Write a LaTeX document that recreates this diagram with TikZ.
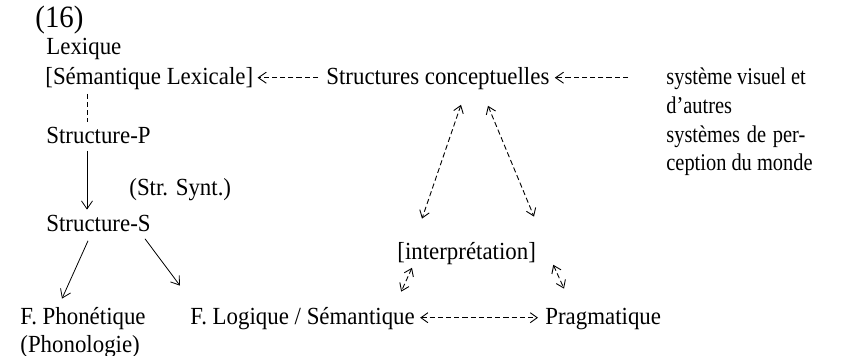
\documentclass[tikz,border=0pt]{standalone}
\usepackage{fontspec}
\setmainfont[FakeStretch=0.93]{Liberation Serif}
\newfontfamily\sidefont[FakeStretch=0.85,Ligatures=TeX]{Liberation Serif}
\usetikzlibrary{arrows.meta}
\usetikzlibrary{positioning}

\begin{document}
\begin{tikzpicture}[x=0.5pt,y=-0.5pt,
  txt/.style={anchor=base west,inner sep=0pt,font=\fontsize{12.3}{15}\selectfont,text height=9pt,text depth=2.7pt},
  side/.style={txt,font=\sidefont\fontsize{12}{15}\selectfont},
  dasharr/.style={dash pattern=on 2.6pt off 1.5pt,line width=0.45pt},
  barb/.style={-{Straight Barb[length=4pt,width=5.5pt]}},
  dbarb/.style={{Straight Barb[length=3.5pt,width=5pt]}-{Straight Barb[length=3.5pt,width=5pt]}}]
\useasboundingbox (0,0) rectangle (853,355);

% texts
\node[txt,font=\fontsize{15.5}{18}\selectfont] (num) at (35,27) {(16)};
\node[txt] (lex) at (46,54) {Lexique};
\node[txt] (semlex) at (45,84) {[Sémantique Lexicale]};
\node[txt] (conc) at (326,84) {Structures conceptuelles};
\node[side] (sysa) at (666,84) {système visuel et};
\node[side] (sysb) at (666,113) {d’autres};
\node[side] (sysc) at (666,142) {\makebox[69.5pt][s]{systèmes de per-}};
\node[side] (sysd) at (666,170) {ception du monde};
\node[txt] (strp) at (46,143) {Structure-P};
\node[txt] (synt) at (129,195) {(Str. Synt.)};
\node[txt] (strs) at (46,231) {Structure-S};
\node[txt] (interp) at (397,259) {[interprétation]};
\node[txt] (phon) at (20,324) {F. Phonétique};
\node[txt] (phgie) at (20,352) {(Phonologie)};
\node[txt] (logsem) at (190,324) {F. Logique / Sémantique};
\node[txt] (prag) at (545,324) {Pragmatique};
\coordinate (pcol) at (87,0);

% connectors
\draw[dasharr] ([yshift=-2pt]semlex.south -| pcol) -- ([yshift=1.5pt]strp.north -| pcol);
\draw[barb] ([yshift=-1pt]strp.south -| pcol) -- ([yshift=1.5pt]strs.north -| pcol);
\draw[barb] ([xshift=21pt,yshift=-2pt]strs.south west) -- ([xshift=21pt,yshift=3.5pt]phon.north west);
\draw[barb] ([xshift=49.5pt,yshift=-1pt]strs.south west) -- ([xshift=-5pt,yshift=10pt]logsem.north west);

\draw[dasharr,barb,shorten >=2pt,shorten <=4pt] (conc.west) -- (semlex.east);
\draw[dasharr,barb,shorten >=2.5pt,shorten <=19pt] (sysa.west) -- (conc.east);

\draw[dasharr,dbarb] ([xshift=67.5pt,yshift=-7.5pt]conc.south west) -- ([xshift=12.5pt,yshift=11pt]interp.north west);
\draw[dasharr,dbarb] ([xshift=81pt,yshift=-8pt]conc.south west) -- ([xshift=68.5pt,yshift=12pt]interp.north west);
\draw[dasharr,dbarb] ([xshift=7.5pt,yshift=-1.5pt]interp.south west) -- ([xshift=-7pt,yshift=7pt]logsem.north east);
\draw[dasharr,dbarb] ([xshift=8.5pt,yshift=0pt]interp.south east) -- ([xshift=9.5pt,yshift=8.5pt]prag.north west);
\draw[dasharr,dbarb,shorten <=2.5pt,shorten >=3.5pt] (logsem.east) -- (prag.west);

\end{tikzpicture}
\end{document}
